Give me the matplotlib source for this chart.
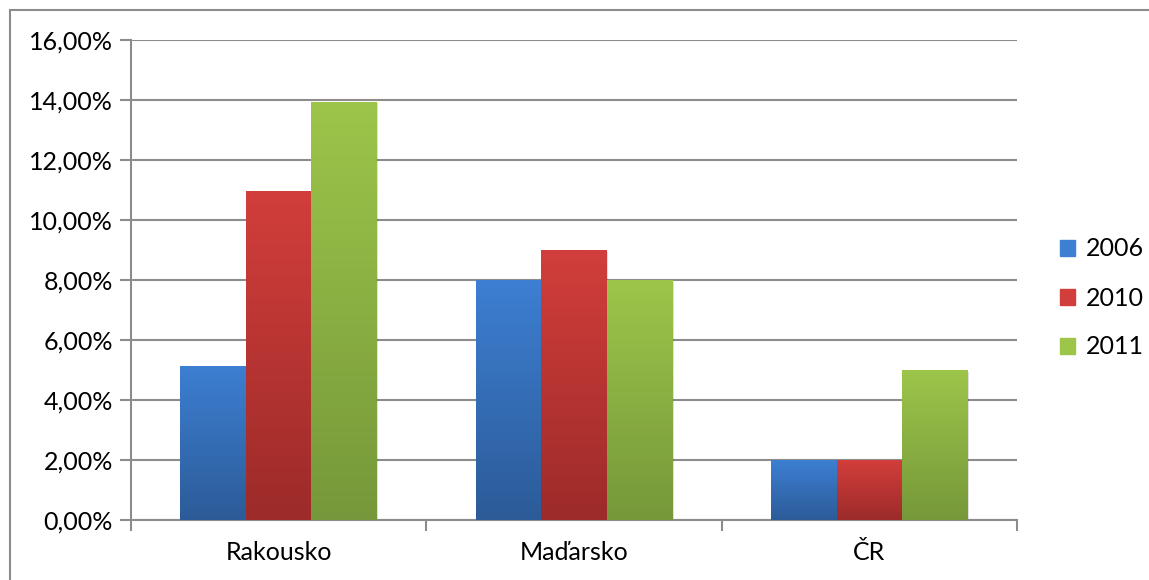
"""Grouped bar chart: share by country for 2006, 2010 and 2011."""

import matplotlib.pyplot as plt
import numpy as np
from matplotlib.colors import LinearSegmentedColormap
from matplotlib.patches import Rectangle

plt.rcParams["font.family"] = ["Lato", "DejaVu Sans"]

countries = ["Rakousko", "Maďarsko", "ČR"]
years = ["2006", "2010", "2011"]
values_2006 = [5.15, 8.0, 2.0]
values_2010 = [10.97, 9.0, 2.0]
values_2011 = [13.95, 8.0, 5.0]
y_ticks = [0, 2, 4, 6, 8, 10, 12, 14, 16]

series = [values_2006, values_2010, values_2011]
# top colour, bottom colour of each gradient
gradients = [
    ("#3d7fd2", "#2c5b98"),
    ("#d23e3b", "#9c2b29"),
    ("#9dc54a", "#76983a"),
]

fig = plt.figure(figsize=(11.49, 5.8), dpi=100)
ax = fig.add_axes([131 / 1149, 60 / 580, 886 / 1149, 480 / 580])

n_groups = len(countries)
bar_w = 1 / 4.5
x = np.arange(n_groups)

for i, (vals, (top, bottom)) in enumerate(zip(series, gradients)):
    cmap = LinearSegmentedColormap.from_list(f"g{i}", [bottom, top])
    offsets = x + (i - 1) * bar_w
    for xc, v in zip(offsets, vals):
        left = xc - bar_w / 2
        # soft shadow
        ax.add_patch(Rectangle((left + 0.004, -0.06), bar_w, v, color="#000000",
                               alpha=0.12, lw=0, zorder=2))
        grad = np.linspace(0, 1, 256).reshape(-1, 1)
        im = ax.imshow(grad, cmap=cmap, origin="lower", aspect="auto",
                       extent=(left, left + bar_w, 0, v), zorder=3)
        clip = Rectangle((left, 0), bar_w, v, transform=ax.transData)
        im.set_clip_path(clip)
    ax.add_patch(Rectangle((0, 0), 0, 0, color=top, label=years[i]))

ax.set_xlim(-0.5, n_groups - 0.5)
ax.set_ylim(0, 16)
ax.set_yticks(y_ticks)
ax.set_yticklabels([f"{t:.2f}%".replace(".", ",") for t in y_ticks], fontsize=18)
ax.set_xticks(x)
ax.set_xticklabels(countries, fontsize=18)
ax.set_xticks(np.arange(n_groups + 1) - 0.5, minor=True)

ax.grid(axis="y", color="#8c8c8c", lw=1.5, zorder=1)
ax.set_axisbelow(True)
for side in ["top", "right"]:
    ax.spines[side].set_visible(False)
for side in ["left", "bottom"]:
    ax.spines[side].set_color("#8c8c8c")
    ax.spines[side].set_linewidth(1.5)

ax.tick_params(axis="y", length=8, width=1.5, color="#8c8c8c", pad=5)
ax.tick_params(axis="x", which="major", length=0, pad=15)
ax.tick_params(axis="x", which="minor", length=8, width=1.5, color="#8c8c8c")

legend = fig.legend(loc="center left", bbox_to_anchor=(1060 / 1149, 1 - 298 / 580),
                    frameon=False, fontsize=18, handlelength=0.6, handleheight=0.6,
                    handletextpad=0.45, labelspacing=1.04, borderpad=0,
                    borderaxespad=0)

fig.add_artist(Rectangle((10 / 1149, -0.1), 1.2, 1 - 10 / 580 + 0.1,
                         transform=fig.transFigure, fill=False,
                         edgecolor="#8c8c8c", lw=1.5))

fig.savefig("out.png", dpi=100)
